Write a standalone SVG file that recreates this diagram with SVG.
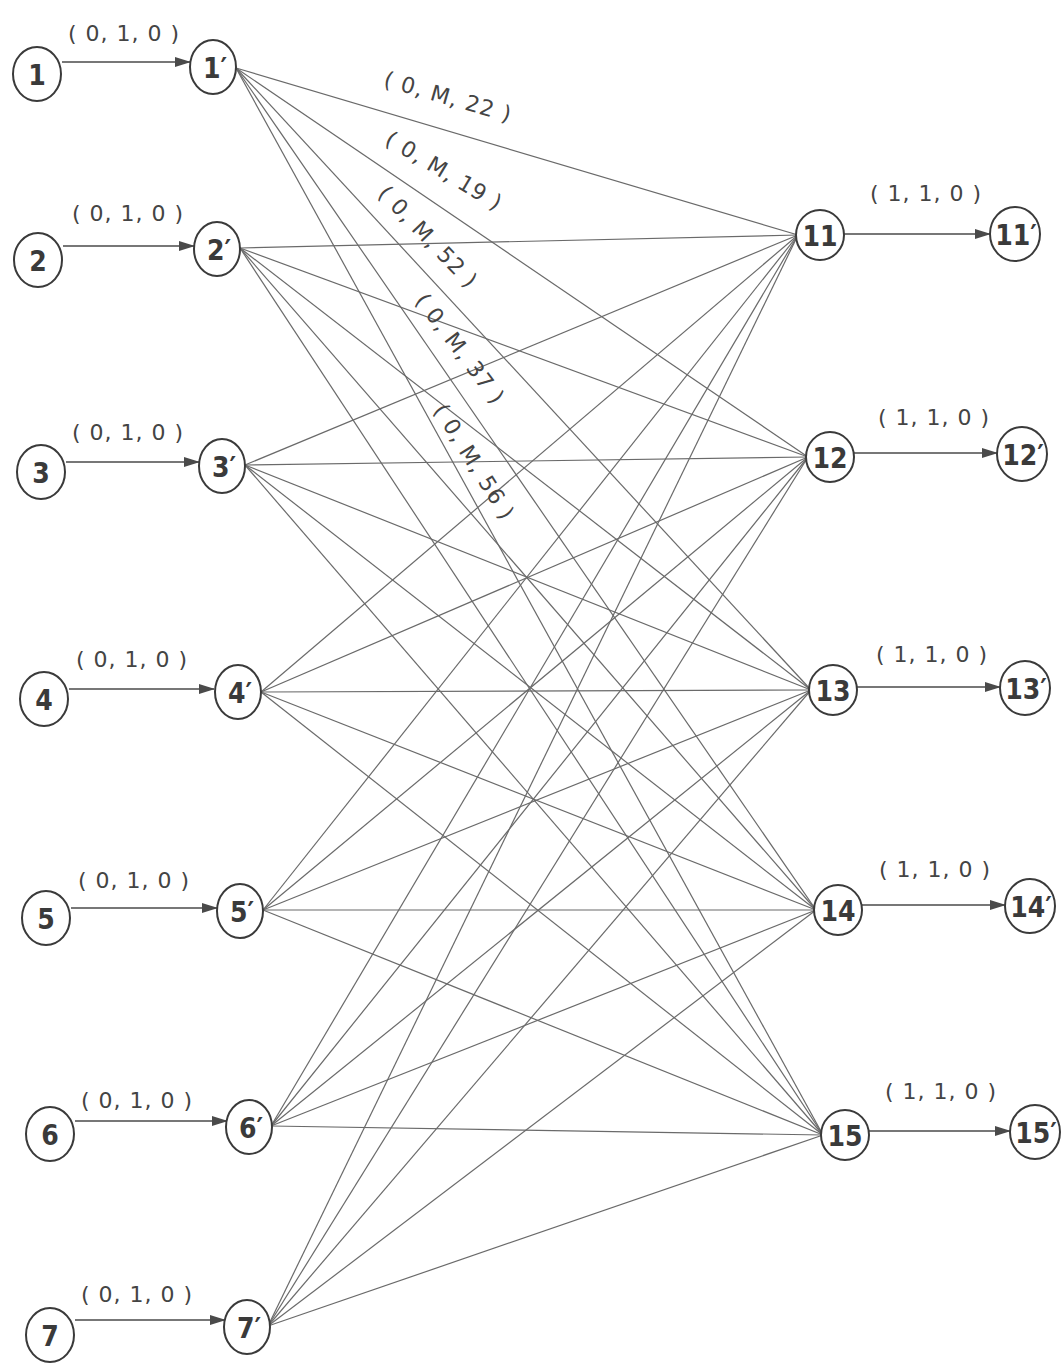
<svg xmlns="http://www.w3.org/2000/svg" width="1063" height="1366" viewBox="0 0 1063 1366">
<style>
.n ellipse{fill:#fff;stroke:#3a3a3a;stroke-width:2}
.n text{font-family:"DejaVu Sans Condensed","DejaVu Sans",sans-serif;font-weight:bold;font-size:28px;fill:#3a3a3a;text-anchor:middle;dominant-baseline:central}
.e line{stroke:#6a6a6a;stroke-width:1.2}
.a line{stroke:#4a4a4a;stroke-width:1.6}
.lb{font-family:"DejaVu Sans","Liberation Sans",sans-serif;font-size:22px;letter-spacing:1px;fill:#444;text-anchor:middle;dominant-baseline:central}
</style>
<defs>
<marker id="ah" markerWidth="16" markerHeight="12" refX="15" refY="6" orient="auto" markerUnits="userSpaceOnUse">
<path d="M0,1 L16,6 L0,11 Z" fill="#4a4a4a"/>
</marker>
</defs>
<g id="connectors">
<g class="e">
<line x1="236" y1="68" x2="798" y2="235"/>
<line x1="236" y1="68" x2="808" y2="457"/>
<line x1="236" y1="68" x2="811" y2="690"/>
<line x1="236" y1="68" x2="816" y2="910"/>
<line x1="236" y1="68" x2="823" y2="1135"/>
<line x1="240" y1="248" x2="798" y2="235"/>
<line x1="240" y1="248" x2="808" y2="457"/>
<line x1="240" y1="248" x2="811" y2="690"/>
<line x1="240" y1="248" x2="816" y2="910"/>
<line x1="240" y1="248" x2="823" y2="1135"/>
<line x1="245" y1="465" x2="798" y2="235"/>
<line x1="245" y1="465" x2="808" y2="457"/>
<line x1="245" y1="465" x2="811" y2="690"/>
<line x1="245" y1="465" x2="816" y2="910"/>
<line x1="245" y1="465" x2="823" y2="1135"/>
<line x1="261" y1="692" x2="798" y2="235"/>
<line x1="261" y1="692" x2="808" y2="457"/>
<line x1="261" y1="692" x2="811" y2="690"/>
<line x1="261" y1="692" x2="816" y2="910"/>
<line x1="261" y1="692" x2="823" y2="1135"/>
<line x1="263" y1="910" x2="798" y2="235"/>
<line x1="263" y1="910" x2="808" y2="457"/>
<line x1="263" y1="910" x2="811" y2="690"/>
<line x1="263" y1="910" x2="816" y2="910"/>
<line x1="263" y1="910" x2="823" y2="1135"/>
<line x1="271" y1="1126" x2="798" y2="235"/>
<line x1="271" y1="1126" x2="808" y2="457"/>
<line x1="271" y1="1126" x2="811" y2="690"/>
<line x1="271" y1="1126" x2="816" y2="910"/>
<line x1="271" y1="1126" x2="823" y2="1135"/>
<line x1="268" y1="1326" x2="798" y2="235"/>
<line x1="268" y1="1326" x2="808" y2="457"/>
<line x1="268" y1="1326" x2="811" y2="690"/>
<line x1="268" y1="1326" x2="816" y2="910"/>
<line x1="268" y1="1326" x2="823" y2="1135"/>
</g>
<g class="a">
<line x1="62" y1="62" x2="190" y2="62" marker-end="url(#ah)"/>
<line x1="63" y1="246" x2="194" y2="246" marker-end="url(#ah)"/>
<line x1="66" y1="462" x2="199" y2="462" marker-end="url(#ah)"/>
<line x1="69" y1="689" x2="214" y2="689" marker-end="url(#ah)"/>
<line x1="71" y1="908" x2="217" y2="908" marker-end="url(#ah)"/>
<line x1="75" y1="1121" x2="227" y2="1121" marker-end="url(#ah)"/>
<line x1="75" y1="1320" x2="225" y2="1320" marker-end="url(#ah)"/>
<line x1="844" y1="234" x2="990" y2="234" marker-end="url(#ah)"/>
<line x1="854" y1="453" x2="997" y2="453" marker-end="url(#ah)"/>
<line x1="857" y1="687" x2="1000" y2="687" marker-end="url(#ah)"/>
<line x1="862" y1="905" x2="1005" y2="905" marker-end="url(#ah)"/>
<line x1="869" y1="1131" x2="1010" y2="1131" marker-end="url(#ah)"/>
</g>
<g>
<text class="lb" x="124" y="33">( 0, 1, 0 )</text>
<text class="lb" x="128" y="213">( 0, 1, 0 )</text>
<text class="lb" x="128" y="432">( 0, 1, 0 )</text>
<text class="lb" x="132" y="659">( 0, 1, 0 )</text>
<text class="lb" x="134" y="880">( 0, 1, 0 )</text>
<text class="lb" x="137" y="1100">( 0, 1, 0 )</text>
<text class="lb" x="137" y="1294">( 0, 1, 0 )</text>
<text class="lb" x="926" y="193">( 1, 1, 0 )</text>
<text class="lb" x="934" y="417">( 1, 1, 0 )</text>
<text class="lb" x="932" y="654">( 1, 1, 0 )</text>
<text class="lb" x="935" y="869">( 1, 1, 0 )</text>
<text class="lb" x="941" y="1091">( 1, 1, 0 )</text>
<text class="lb" transform="translate(448,97) rotate(16)">( 0, M, 22 )</text>
<text class="lb" transform="translate(444,171) rotate(31)">( 0, M, 19 )</text>
<text class="lb" transform="translate(428,237) rotate(46)">( 0, M, 52 )</text>
<text class="lb" transform="translate(460,349) rotate(53)">( 0, M, 37 )</text>
<text class="lb" transform="translate(474,462) rotate(58)">( 0, M, 56 )</text>
</g>
</g>
<g id="n1" class="n"><ellipse cx="37" cy="74" rx="24" ry="27"/><text x="37" y="75">1</text></g>
<g id="n2" class="n"><ellipse cx="38" cy="260" rx="24" ry="27"/><text x="38" y="261">2</text></g>
<g id="n3" class="n"><ellipse cx="41" cy="472" rx="24" ry="27"/><text x="41" y="473">3</text></g>
<g id="n4" class="n"><ellipse cx="44" cy="699" rx="24" ry="27"/><text x="44" y="700">4</text></g>
<g id="n5" class="n"><ellipse cx="46" cy="918" rx="24" ry="27"/><text x="46" y="919">5</text></g>
<g id="n6" class="n"><ellipse cx="50" cy="1134" rx="24" ry="27"/><text x="50" y="1135">6</text></g>
<g id="n7" class="n"><ellipse cx="50" cy="1335" rx="24" ry="27"/><text x="50" y="1336">7</text></g>
<g id="n1p" class="n"><ellipse cx="213" cy="67" rx="23" ry="27"/><text x="215" y="68">1′</text></g>
<g id="n2p" class="n"><ellipse cx="217" cy="249" rx="23" ry="27"/><text x="219" y="250">2′</text></g>
<g id="n3p" class="n"><ellipse cx="222" cy="466" rx="23" ry="27"/><text x="224" y="467">3′</text></g>
<g id="n4p" class="n"><ellipse cx="238" cy="692" rx="23" ry="27"/><text x="240" y="693">4′</text></g>
<g id="n5p" class="n"><ellipse cx="240" cy="911" rx="23" ry="27"/><text x="242" y="912">5′</text></g>
<g id="n6p" class="n"><ellipse cx="249" cy="1127" rx="23" ry="27"/><text x="251" y="1128">6′</text></g>
<g id="n7p" class="n"><ellipse cx="247" cy="1327" rx="23" ry="27"/><text x="249" y="1328">7′</text></g>
<g id="n11" class="n"><ellipse cx="820" cy="235" rx="24" ry="25"/><text x="820" y="236">11</text></g>
<g id="n12" class="n"><ellipse cx="830" cy="457" rx="24" ry="25"/><text x="830" y="458">12</text></g>
<g id="n13" class="n"><ellipse cx="833" cy="690" rx="24" ry="25"/><text x="833" y="691">13</text></g>
<g id="n14" class="n"><ellipse cx="838" cy="910" rx="24" ry="25"/><text x="838" y="911">14</text></g>
<g id="n15" class="n"><ellipse cx="845" cy="1135" rx="24" ry="25"/><text x="845" y="1136">15</text></g>
<g id="n11p" class="n"><ellipse cx="1015" cy="234" rx="25" ry="27"/><text x="1016" y="235">11′</text></g>
<g id="n12p" class="n"><ellipse cx="1022" cy="454" rx="25" ry="27"/><text x="1023" y="455">12′</text></g>
<g id="n13p" class="n"><ellipse cx="1025" cy="688" rx="25" ry="27"/><text x="1026" y="689">13′</text></g>
<g id="n14p" class="n"><ellipse cx="1030" cy="906" rx="25" ry="27"/><text x="1031" y="907">14′</text></g>
<g id="n15p" class="n"><ellipse cx="1035" cy="1132" rx="25" ry="27"/><text x="1036" y="1133">15′</text></g>
</svg>
